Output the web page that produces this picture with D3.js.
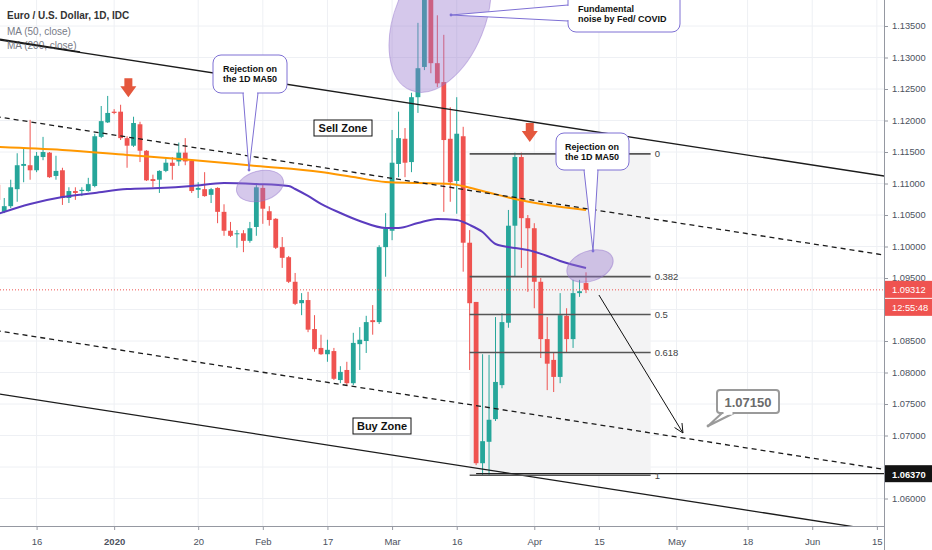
<!DOCTYPE html>
<html>
<head>
<meta charset="utf-8">
<script src="https://cdn.jsdelivr.net/npm/d3@7"></script>
<style>
  body { margin: 0; background: #fff; }
  svg { display: block; font-family: "Liberation Sans", Arial, sans-serif; }
</style>
</head>
<body>
<svg id="chart" width="932" height="550"></svg>
<script>
// EUR/USD daily candles, first bar 2019-12-06, one per weekday up to 2020-04-13
const startDate = "2019-12-06";
const opens  = [1.1098,1.1055,1.1064,1.1091,1.1128,1.1129,1.1121,1.1142,1.1149,1.1112,
                1.1121,1.1077,1.1088,1.1088,1.1088,1.1096,1.1174,1.1197,1.1214,1.1214,
                1.1172,1.1160,1.1194,1.1152,1.1107,1.1106,1.1120,1.1133,1.1135,1.1149,
                1.1136,1.1090,1.1091,1.1082,1.1093,1.1055,1.1025,1.1020,1.1021,1.1009,
                1.1031,1.1093,1.1056,1.1044,1.0999,1.0983,1.0944,1.0910,1.0915,1.0869,
                1.0839,1.0829,1.0834,1.0788,1.0804,1.0783,1.0845,1.0850,1.0883,1.0880,
                1.0999,1.1025,1.1131,1.1171,1.1134,1.1237,1.1285,1.1439,1.1291,1.1261,
                1.1171,1.1104,1.1175,1.1006,1.0912,1.0656,1.0690,1.0726,1.0780,1.0879,
                1.1033,1.1142,1.1045,1.1029,1.0944,1.0853,1.0820,1.0793,1.0890,1.0853,
                1.0926,1.0942];
const highs  = [1.1102,1.1077,1.1106,1.1148,1.1155,1.1201,1.1150,1.1174,1.1150,1.1144,
                1.1125,1.1094,1.1094,1.1094,1.1109,1.1179,1.1223,1.1239,1.1218,1.1225,
                1.1175,1.1206,1.1198,1.1153,1.1114,1.1121,1.1140,1.1142,1.1165,1.1172,
                1.1137,1.1102,1.1118,1.1093,1.1094,1.1067,1.1039,1.1026,1.1026,1.1039,
                1.1098,1.1098,1.1064,1.1045,1.1015,1.0985,1.0958,1.0926,1.0928,1.0891,
                1.0860,1.0852,1.0839,1.0810,1.0817,1.0863,1.0872,1.0890,1.0907,1.1002,
                1.1053,1.1185,1.1214,1.1188,1.1244,1.1355,1.1495,1.1447,1.1367,1.1336,
                1.1221,1.1237,1.1190,1.1026,1.0912,1.0829,1.0828,1.0888,1.0894,1.1058,
                1.1149,1.1149,1.1050,1.1037,1.0950,1.0888,1.0831,1.0926,1.0902,1.0947,
                1.0947,1.0959];
const lows   = [1.1069,1.1053,1.1061,1.1071,1.1102,1.1106,1.1118,1.1137,1.1109,1.1106,
                1.1066,1.1069,1.1074,1.1080,1.1087,1.1094,1.1172,1.1196,1.1210,1.1169,
                1.1125,1.1158,1.1134,1.1104,1.1094,1.1085,1.1118,1.1106,1.1128,1.1129,
                1.1085,1.1077,1.1079,1.1069,1.1037,1.1017,1.1015,1.0998,1.0991,1.1006,
                1.1017,1.1036,1.1033,1.0996,1.0966,1.0942,1.0907,1.0891,1.0864,1.0833,
                1.0828,1.0817,1.0788,1.0783,1.0779,1.0780,1.0804,1.0831,1.0860,1.0877,
                1.0952,1.1010,1.1110,1.1110,1.1118,1.1212,1.1280,1.1275,1.1253,1.1055,
                1.1071,1.1052,1.0960,1.0804,1.0653,1.0636,1.0636,1.0723,1.0775,1.0871,
                1.0952,1.0966,1.0928,1.0902,1.0823,1.0772,1.0769,1.0783,1.0831,1.0839,
                1.0920,1.0926];
const closes = [1.1074,1.1064,1.1094,1.1129,1.1131,1.1121,1.1144,1.1150,1.1110,1.1120,
                1.1077,1.1088,1.1085,1.1090,1.1099,1.1175,1.1199,1.1212,1.1212,1.1172,
                1.1160,1.1196,1.1152,1.1105,1.1104,1.1120,1.1133,1.1128,1.1149,1.1135,
                1.1088,1.1093,1.1080,1.1091,1.1055,1.1025,1.1017,1.1021,1.1009,1.1029,
                1.1094,1.1060,1.1042,1.0998,1.0982,1.0944,1.0909,1.0915,1.0868,1.0837,
                1.0829,1.0836,1.0790,1.0801,1.0783,1.0847,1.0852,1.0880,1.0880,1.0999,
                1.1028,1.1133,1.1172,1.1133,1.1237,1.1283,1.1439,1.1291,1.1259,1.1169,
                1.1102,1.1179,1.1006,1.0910,1.0656,1.0691,1.0725,1.0785,1.0880,1.1033,
                1.1142,1.1045,1.1029,1.0944,1.0853,1.0814,1.0793,1.0891,1.0853,1.0926,
                1.0929,1.09312];

// moving averages at sample dates
const ma50Dates  = ["2019-12-06","2019-12-13","2019-12-20","2019-12-27","2020-01-03","2020-01-10",
                    "2020-01-17","2020-01-24","2020-01-31","2020-02-07","2020-02-10","2020-02-12",
                    "2020-02-14","2020-02-19","2020-02-24","2020-02-28","2020-03-03","2020-03-06",
                    "2020-03-11","2020-03-16","2020-03-18","2020-03-20","2020-03-24","2020-03-27",
                    "2020-03-31","2020-04-03","2020-04-07","2020-04-13"];
const ma50Values = [1.10516,1.10675,1.10786,1.10850,1.10913,1.10929,1.10961,1.11008,1.10992,1.10961,
                    1.10913,1.10802,1.10675,1.10532,1.10405,1.10294,1.10294,1.10373,1.10437,1.10421,
                    1.10342,1.10230,1.10040,1.09977,1.09945,1.09850,1.09770,1.09659];
const ma200Dates  = ["2019-12-06","2019-12-20","2020-01-03","2020-01-17","2020-01-31","2020-02-14",
                     "2020-02-21","2020-02-28","2020-03-06","2020-03-13","2020-03-20","2020-03-27",
                     "2020-04-03","2020-04-13"];
const ma200Values = [1.11580,1.11532,1.11453,1.11373,1.11278,1.11183,1.11103,1.11024,1.11008,1.10992,
                     1.10881,1.10754,1.10659,1.10580];

const xTickDates  = ["2019-12-16","2020-01-01","2020-01-20","2020-02-03","2020-02-17","2020-03-02",
                     "2020-03-16","2020-04-01","2020-04-15","2020-05-01","2020-05-18","2020-06-01","2020-06-15"];
const xTickLabels = ["16","2020","20","Feb","17","Mar","16","Apr","15","May","18","Jun","15"];
const priceTicks  = [1.060,1.065,1.070,1.075,1.080,1.085,1.090,1.095,1.100,1.105,1.110,1.115,1.120,1.125,1.130,1.135];

const fibHigh = 1.1147, fibLow = 1.0637;
const fibLevels = [0, 0.382, 0.5, 0.618, 1];
const targetLabel = "1.07150";

const svg = d3.select("#chart");
const plotR = 884, plotB = 526;
const up = "#26a69a", down = "#ef5350";

const parse = d3.timeParse("%Y-%m-%d");
const days = d3.timeDay.range(parse(startDate), parse("2020-07-01"))
  .filter(d => d.getDay() !== 0 && d.getDay() !== 6);
const idx = s => d3.bisectLeft(days, parse(s));

const x = d3.scaleLinear().domain([0, 91]).range([-2.2, 586]);
const y = d3.scaleLinear().domain([1.06, 1.135]).range([498.5, 26]);

const candles = opens.map((o, i) => ({ i, o, h: highs[i], l: lows[i], c: closes[i] }));
const last = closes[closes.length - 1];

svg.append("defs").append("clipPath").attr("id", "plotClip")
  .append("rect").attr("x", 0).attr("y", 0).attr("width", plotR).attr("height", plotB);

// grid
const grid = svg.append("g");
grid.selectAll("line.v").data(xTickDates).join("line")
  .attr("x1", d => x(idx(d))).attr("x2", d => x(idx(d)))
  .attr("y1", 0).attr("y2", plotB)
  .attr("stroke", "#eef0f4").attr("stroke-width", 1);
grid.selectAll("line.h").data(priceTicks).join("line")
  .attr("x1", 0).attr("x2", plotR)
  .attr("y1", d => y(d)).attr("y2", d => y(d))
  .attr("stroke", "#eef0f4").attr("stroke-width", 1);

const plot = svg.append("g").attr("clip-path", "url(#plotClip)");

// fib background
const fibX1 = x(idx("2020-03-18")), fibX2 = x(101);
const fibY = lv => y(fibHigh - lv * (fibHigh - fibLow));
plot.append("rect")
  .attr("x", fibX1).attr("width", fibX2 - fibX1)
  .attr("y", fibY(0)).attr("height", fibY(1) - fibY(0))
  .attr("fill", "#f3f3f4");

// candles
const cg = plot.append("g").selectAll("g").data(candles).join("g");
cg.append("line")
  .attr("x1", d => x(d.i)).attr("x2", d => x(d.i))
  .attr("y1", d => y(d.h)).attr("y2", d => y(d.l))
  .attr("stroke", d => d.c >= d.o ? up : down).attr("stroke-width", 1);
cg.append("rect")
  .attr("x", d => x(d.i) - 2.4).attr("width", 4.8)
  .attr("y", d => y(Math.max(d.o, d.c)))
  .attr("height", d => Math.max(1, Math.abs(y(d.o) - y(d.c))))
  .attr("fill", d => d.c >= d.o ? up : down);

// moving averages
const maLine = d3.line().x(d => x(idx(d[0]))).y(d => y(d[1])).curve(d3.curveMonotoneX);
plot.append("path").datum(d3.zip(ma200Dates, ma200Values))
  .attr("d", maLine).attr("fill", "none").attr("stroke", "#ff9800").attr("stroke-width", 2);
plot.append("path").datum(d3.zip(ma50Dates, ma50Values))
  .attr("d", maLine).attr("fill", "none").attr("stroke", "#5b3cbf").attr("stroke-width", 2);

// channel lines
const channel = [
  { a: [0, 1.13285], b: [140, 1.11073], dash: null },
  { a: [0, 1.12063], b: [140, 1.09819], dash: "5,4" },
  { a: [0, 1.08666], b: [140, 1.06416], dash: "5,4" },
  { a: [0, 1.07666], b: [140, 1.05431], dash: null }
];
plot.selectAll("line.ch").data(channel).join("line")
  .attr("x1", d => x(d.a[0]) - 2).attr("y1", d => y(d.a[1]))
  .attr("x2", d => x(d.b[0])).attr("y2", d => y(d.b[1]))
  .attr("stroke", "#1c1c1c").attr("stroke-width", 1.3)
  .attr("stroke-dasharray", d => d.dash);

// fib lines and labels
plot.append("line")
  .attr("x1", x(idx("2020-03-19"))).attr("x2", plotR)
  .attr("y1", y(fibLow) - 1.5).attr("y2", y(fibLow) - 1.5)
  .attr("stroke", "#222").attr("stroke-width", 1.2);
plot.selectAll("line.fib").data(fibLevels).join("line")
  .attr("x1", fibX1).attr("x2", fibX2)
  .attr("y1", d => fibY(d)).attr("y2", d => fibY(d))
  .attr("stroke", "#555").attr("stroke-width", 1.6);
plot.selectAll("text.fib").data(fibLevels).join("text")
  .attr("x", fibX2 + 4).attr("y", d => fibY(d) + 3.5)
  .attr("font-size", 9.5).attr("fill", "#444")
  .text(d => d);

// current price line
svg.append("line")
  .attr("x1", 0).attr("x2", plotR).attr("y1", y(last)).attr("y2", y(last))
  .attr("stroke", down).attr("stroke-width", 1).attr("stroke-dasharray", "1,2");

// ellipses
const ell = [
  { cx: 260, cy: 186, rx: 24, ry: 15, rot: -15 },
  { cx: 440, cy: 18, rx: 45, ry: 78, rot: 22 },
  { cx: 590, cy: 266, rx: 24, ry: 15, rot: -20 }
];
plot.selectAll("ellipse").data(ell).join("ellipse")
  .attr("cx", 0).attr("cy", 0).attr("rx", d => d.rx).attr("ry", d => d.ry)
  .attr("transform", d => `translate(${d.cx},${d.cy}) rotate(${d.rot})`)
  .attr("fill", "rgba(149,117,205,0.4)").attr("stroke", "rgba(149,117,205,0.5)");

// red down arrows
const redArrows = [{ i: 20.2, p: 1.1237 }, { i: 82.3, p: 1.1166 }];
plot.selectAll("path.arr").data(redArrows).join("path")
  .attr("transform", d => `translate(${x(d.i)},${y(d.p)})`)
  .attr("d", "M-4,-19L4,-19L4,-11L8,-11L0,0L-8,-11L-4,-11Z")
  .attr("fill", "#e4573d");

// projection arrow
const pa = { a: [93, 1.0923], b: [106, 1.0704] };
const ax1 = x(pa.a[0]), ay1 = y(pa.a[1]), ax2 = x(pa.b[0]), ay2 = y(pa.b[1]);
const ang = Math.atan2(ay2 - ay1, ax2 - ax1);
plot.append("line").attr("x1", ax1).attr("y1", ay1).attr("x2", ax2).attr("y2", ay2)
  .attr("stroke", "#111").attr("stroke-width", 1);
plot.append("path")
  .attr("d", `M${ax2 - 10 * Math.cos(ang - 0.45)},${ay2 - 10 * Math.sin(ang - 0.45)}L${ax2},${ay2}L${ax2 - 10 * Math.cos(ang + 0.45)},${ay2 - 10 * Math.sin(ang + 0.45)}`)
  .attr("fill", "none").attr("stroke", "#111").attr("stroke-width", 1);

// callouts
function callout(g, o) {
  g.append("path")
    .attr("d", `M${o.base[0][0]},${o.base[0][1]}L${o.tip[0]},${o.tip[1]}L${o.base[1][0]},${o.base[1][1]}`)
    .attr("fill", "#fff").attr("stroke", o.stroke).attr("stroke-width", o.sw);
  g.append("rect").attr("x", o.x).attr("y", o.y).attr("width", o.w).attr("height", o.h)
    .attr("rx", o.r).attr("fill", "#fff").attr("stroke", o.stroke).attr("stroke-width", o.sw);
  g.append("line")
    .attr("x1", o.base[0][0] + o.inset[0]).attr("y1", o.base[0][1] + o.inset[1])
    .attr("x2", o.base[1][0] - o.inset[0]).attr("y2", o.base[1][1] - o.inset[1])
    .attr("stroke", "#fff").attr("stroke-width", o.sw + 1.5);
  g.append("circle").attr("cx", o.tip[0]).attr("cy", o.tip[1]).attr("r", 1.4).attr("fill", o.stroke);
  o.lines.forEach((t, k) => {
    g.append("text").attr("x", o.tx).attr("y", o.ty + k * o.lh)
      .attr("text-anchor", o.anchor).attr("font-size", o.fs).attr("font-weight", "bold")
      .attr("fill", o.color).text(t);
  });
}
const cgrp = svg.append("g");
callout(cgrp, { x: 213, y: 55, w: 74, h: 38, r: 8, stroke: "#7e70d4", sw: 1,
  base: [[243, 93], [258, 93]], inset: [1, 0], tip: [249, 170],
  tx: 250, ty: 72, lh: 10, anchor: "middle", fs: 9, color: "#111",
  lines: ["Rejection on", "the 1D MA50"] });
callout(cgrp, { x: 556, y: 133, w: 73, h: 37, r: 8, stroke: "#7e70d4", sw: 1,
  base: [[584, 170], [598, 170]], inset: [1, 0], tip: [593, 251],
  tx: 592, ty: 149.5, lh: 10, anchor: "middle", fs: 9, color: "#111",
  lines: ["Rejection on", "the 1D MA50"] });
callout(cgrp, { x: 568, y: -12, w: 112, h: 44, r: 8, stroke: "#7e70d4", sw: 1,
  base: [[568, 5], [568, 21]], inset: [0, 1], tip: [451, 15],
  tx: 578, ty: 11.5, lh: 10.5, anchor: "start", fs: 9, color: "#111",
  lines: ["Fundamental", "noise by Fed/ COVID"] });
callout(cgrp, { x: 717, y: 390, w: 62, h: 23, r: 3, stroke: "#9a9a9a", sw: 2,
  base: [[722, 413], [734, 413]], inset: [1.5, 0], tip: [708, 426],
  tx: 748, ty: 407, lh: 0, anchor: "middle", fs: 13, color: "#6b6b6b",
  lines: [targetLabel] });

// zone labels
const zones = [{ t: "Sell Zone", x: 314, y: 120, w: 58 }, { t: "Buy Zone", x: 353, y: 418, w: 58 }];
const zg = svg.selectAll("g.zone").data(zones).join("g");
zg.append("rect").attr("x", d => d.x).attr("y", d => d.y).attr("width", d => d.w).attr("height", 16)
  .attr("fill", "#fff").attr("stroke", "#111").attr("stroke-width", 1);
zg.append("text").attr("x", d => d.x + d.w / 2).attr("y", d => d.y + 12)
  .attr("text-anchor", "middle").attr("font-size", 11).attr("font-weight", "bold")
  .attr("fill", "#111").text(d => d.t);

// legend
svg.append("text").attr("x", 7).attr("y", 19).attr("font-size", 10).attr("font-weight", "bold")
  .attr("fill", "#333").text("Euro / U.S. Dollar, 1D, IDC");
svg.append("text").attr("x", 7).attr("y", 35).attr("font-size", 10).attr("fill", "#787b86").text("MA (50, close)");
svg.append("text").attr("x", 7).attr("y", 49).attr("font-size", 10).attr("fill", "#787b86").text("MA (200, close)");
// the upper channel line runs across the legend
svg.append("line").attr("x1", 0).attr("y1", y(1.13285) - 0.3).attr("x2", 80).attr("y2", y(1.13285) + 80 * 0.1538)
  .attr("stroke", "#1c1c1c").attr("stroke-width", 1.3);

// axes
const axisCol = "#4c525e";
svg.append("rect").attr("x", plotR).attr("y", 0).attr("width", 932 - plotR).attr("height", 550).attr("fill", "#fff");
svg.append("rect").attr("x", 0).attr("y", plotB).attr("width", 932).attr("height", 550 - plotB).attr("fill", "#fff");

// price tags on the axis; tick labels that sit behind them are left out
const tags = [
  { t: d3.format(".5f")(last), cy: y(last), fill: down, bold: false },
  { t: "12:55:48", cy: y(last) + 18, fill: down, bold: false },
  { t: d3.format(".5f")(fibLow), cy: y(fibLow) - 1, fill: "#131313", bold: true }
];
const hidden = p => tags.some(t => Math.abs(y(p) - t.cy) < 11);

const yAxis = svg.append("g").attr("transform", `translate(${plotR},0)`)
  .call(d3.axisRight(y).tickValues(priceTicks).tickFormat(d3.format(".5f")).tickSize(4).tickPadding(4));
yAxis.select(".domain").remove();
yAxis.selectAll("line").attr("stroke", "#9598a1");
yAxis.selectAll("text").attr("font-size", 9.3).attr("fill", axisCol)
  .attr("font-family", "Liberation Sans, Arial, sans-serif")
  .style("display", d => hidden(d) ? "none" : null);

const xAxis = svg.append("g").attr("transform", `translate(0,${plotB})`)
  .call(d3.axisBottom(x).tickValues(xTickDates.map(idx)).tickFormat((d, k) => xTickLabels[k]).tickSize(4).tickPadding(8));
xAxis.select(".domain").remove();
xAxis.selectAll("line").attr("stroke", "#9598a1");
xAxis.selectAll("text").attr("font-size", 9.5).attr("fill", axisCol)
  .attr("font-family", "Liberation Sans, Arial, sans-serif")
  .attr("font-weight", (d, k) => xTickLabels[k] === "2020" ? "bold" : null);

svg.append("line").attr("x1", plotR + 0.5).attr("x2", plotR + 0.5).attr("y1", 0).attr("y2", 550)
  .attr("stroke", "#9598a1").attr("stroke-width", 1);
svg.append("line").attr("x1", 0).attr("x2", plotR).attr("y1", plotB + 0.5).attr("y2", plotB + 0.5)
  .attr("stroke", "#9598a1").attr("stroke-width", 1);

const tg = svg.selectAll("g.tag").data(tags).join("g");
tg.append("rect").attr("x", plotR + 1).attr("y", d => d.cy - 9).attr("width", 932 - plotR).attr("height", 17)
  .attr("fill", d => d.fill);
tg.append("text").attr("x", plotR + 8).attr("y", d => d.cy + 3.5).attr("font-size", 9.3)
  .attr("font-weight", d => d.bold ? "bold" : null).attr("fill", "#fff").text(d => d.t);
</script>
</body>
</html>
